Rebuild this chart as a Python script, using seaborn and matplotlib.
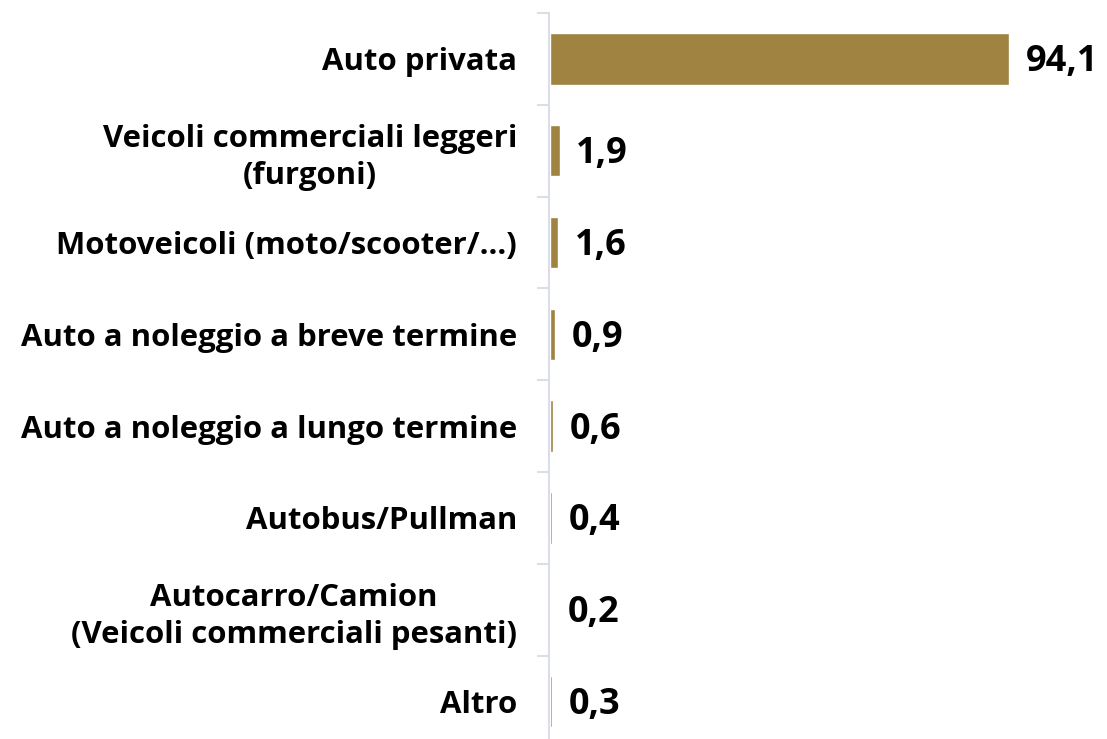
import matplotlib
matplotlib.use("Agg")
import matplotlib.pyplot as plt
import seaborn as sns
import pandas as pd

categories = [
    "Auto privata",
    "Veicoli commerciali leggeri\n(furgoni)",
    "Motoveicoli (moto/scooter/…)",
    "Auto a noleggio a breve termine",
    "Auto a noleggio a lungo termine",
    "Autobus/Pullman",
    "Autocarro/Camion\n(Veicoli commerciali pesanti)",
    "Altro",
]
values = [94.1, 1.9, 1.6, 0.9, 0.6, 0.4, 0.2, 0.3]
value_labels = ["94,1", "1,9", "1,6", "0,9", "0,6", "0,4", "0,2", "0,3"]

sns.set_theme(style="white")
plt.rcParams["font.family"] = ["Open Sans", "DejaVu Sans"]

W, H = 1107, 739
fig = plt.figure(figsize=(W / 100, H / 100), dpi=100)
ax_left, ax_top, ax_bottom_px = 549, 13, 747.4
ax = fig.add_axes([ax_left / W, (H - ax_bottom_px) / H, (W - ax_left) / W, (ax_bottom_px - ax_top) / H])

df = pd.DataFrame({"cat": categories, "val": values})
sns.barplot(data=df, y="cat", x="val", orient="h", color="#A08241",
            saturation=1, width=0.56, ax=ax)

px_per_unit = (1010 - 551) / 94.1
ax.set_xlim(-0.3, (W - ax_left) / px_per_unit - 0.3)
ax.set_ylim(len(categories) - 0.5, -0.5)

for i, (v, lab) in enumerate(zip(values, value_labels)):
    ax.annotate(lab, xy=(v, i), xytext=(12, -2.5), textcoords="offset points",
                ha="left", va="center", fontsize=26, fontweight="bold", color="black")

for s in ["top", "right", "bottom"]:
    ax.spines[s].set_visible(False)
ax.spines["left"].set_color("#D9DEE8")
ax.spines["left"].set_linewidth(1.5)
ax.set_xticks([])
ax.set_xlabel("")
ax.set_ylabel("")

ax.set_yticks(range(len(categories)))
ax.set_yticklabels(categories, fontsize=22.4, fontweight="bold", color="black")
for t in ax.get_yticklabels():
    t.set_multialignment("center")
    t.set_linespacing(1.3)
ax.tick_params(axis="y", which="major", length=0, pad=23)
ax.set_yticks([i - 0.5 for i in range(len(categories) + 1)], minor=True)
ax.tick_params(axis="y", which="minor", length=9, width=1.5, color="#D9DEE8", direction="out", left=True)

fig.savefig("out.png", dpi=100)
